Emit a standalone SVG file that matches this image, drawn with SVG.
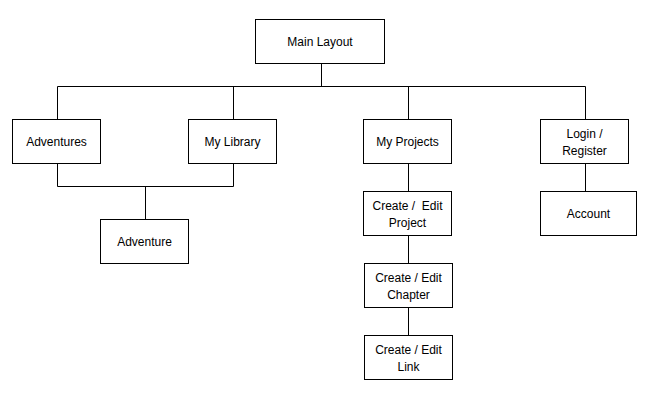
<svg xmlns="http://www.w3.org/2000/svg" width="649" height="400" viewBox="0 0 649 400">
<style>
.box{fill:#fff;stroke:#000;stroke-width:1}
.ln{fill:none;stroke:#000;stroke-width:1}
text{font-family:"Liberation Sans",Arial,sans-serif;font-size:12px;fill:#000;text-anchor:middle}
</style>
<rect width="649" height="400" fill="#fff"/>
<g id="connectors">
<path class="ln" d="M321.5 63.5V86.5M57.5 86.5H585.5M57.5 86.5V119.5M233.5 86.5V119.5M408.5 86.5V119.5M585.5 86.5V119.5"/>
<path class="ln" d="M57.5 163.5V186.5H233.5V163.5M145.5 186.5V219.5"/>
<path class="ln" d="M408.5 163.5V191.5M408.5 235.5V263.5M408.5 307.5V335.5"/>
<path class="ln" d="M585.5 163.5V191.5"/>
</g>
<g id="main-layout"><rect class="box" x="255.5" y="19.5" width="129" height="44"/><text x="320" y="46">Main Layout</text></g>
<g id="adventures"><rect class="box" x="12.5" y="119.5" width="88" height="44"/><text x="56.5" y="146">Adventures</text></g>
<g id="my-library"><rect class="box" x="188.5" y="119.5" width="88" height="44"/><text x="232.5" y="146">My Library</text></g>
<g id="my-projects"><rect class="box" x="363.5" y="119.5" width="88" height="44"/><text x="407.5" y="146">My Projects</text></g>
<g id="login-register"><rect class="box" x="540.5" y="119.5" width="88" height="44"/><text x="584.5" y="138">Login /</text><text x="584.5" y="155">Register</text></g>
<g id="adventure"><rect class="box" x="100.5" y="219.5" width="88" height="44"/><text x="144.5" y="246">Adventure</text></g>
<g id="create-edit-project"><rect class="box" x="363.5" y="191.5" width="88" height="44"/><text x="407.5" y="210" xml:space="preserve">Create /  Edit</text><text x="407.5" y="227">Project</text></g>
<g id="account"><rect class="box" x="540.5" y="191.5" width="96" height="44"/><text x="588.5" y="218">Account</text></g>
<g id="create-edit-chapter"><rect class="box" x="364.5" y="263.5" width="88" height="44"/><text x="408.5" y="282">Create / Edit</text><text x="408.5" y="299">Chapter</text></g>
<g id="create-edit-link"><rect class="box" x="364.5" y="335.5" width="88" height="44"/><text x="408.5" y="354">Create / Edit</text><text x="408.5" y="371">Link</text></g>
</svg>
